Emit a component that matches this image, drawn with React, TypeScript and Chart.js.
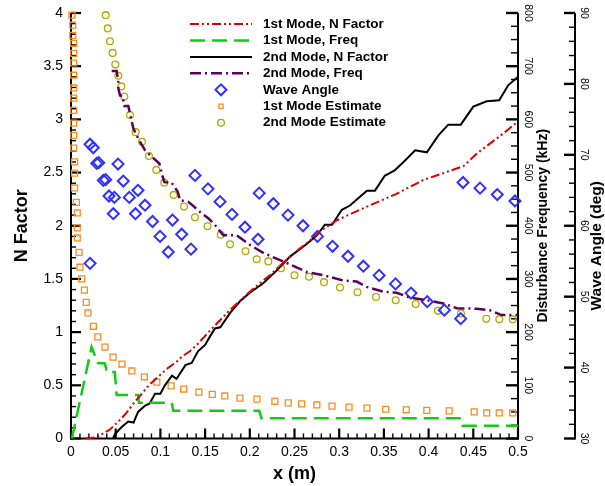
import { useEffect, useRef } from 'react';
import { Chart, registerables } from 'chart.js';
import { drawPoint } from 'chart.js/helpers';

Chart.register(...registerables);

type Pt = [number, number];

// ---- axis ticks ----
const xTicks = [0, 0.05, 0.1, 0.15, 0.2, 0.25, 0.3, 0.35, 0.4, 0.45, 0.5];
const nFactorTicks = [0, 0.5, 1, 1.5, 2, 2.5, 3, 3.5, 4];
const freqTicks = [0, 100, 200, 300, 400, 500, 600, 700, 800];
const angleTicks = [30, 40, 50, 60, 70, 80, 90];

// ---- series: [x (m), value] ----
const mode1NFactor: Pt[] = [
  [0.016, 0], [0.028, 0.01], [0.043, 0.08], [0.053, 0.16], [0.062, 0.24], [0.07, 0.33],
  [0.08, 0.43], [0.087, 0.5], [0.1, 0.6], [0.108, 0.66], [0.118, 0.72], [0.124, 0.77],
  [0.133, 0.82], [0.142, 0.89], [0.155, 1.01], [0.178, 1.21], [0.2, 1.38], [0.223, 1.54],
  [0.245, 1.71], [0.267, 1.86], [0.279, 1.95], [0.297, 2.05], [0.323, 2.15], [0.364, 2.3],
  [0.394, 2.43], [0.439, 2.56], [0.454, 2.68], [0.484, 2.87], [0.5, 2.98],
];

const mode1Freq: Pt[] = [
  [0.001, 0], [0.023, 172], [0.03, 142], [0.038, 141], [0.04, 125], [0.049, 125],
  [0.051, 82], [0.075, 82], [0.076, 67], [0.1126, 67], [0.1144, 52], [0.2106, 52],
  [0.213, 38], [0.436, 38], [0.438, 24], [0.5, 24],
];

const mode2NFactor: Pt[] = [
  [0.047, 0], [0.049, 0.04], [0.057, 0.11], [0.064, 0.16], [0.07, 0.15], [0.075, 0.25],
  [0.083, 0.31], [0.088, 0.33], [0.094, 0.42], [0.1, 0.42], [0.105, 0.5], [0.113, 0.59],
  [0.118, 0.56], [0.128, 0.69], [0.135, 0.71], [0.142, 0.82], [0.15, 0.88], [0.1555, 0.96],
  [0.161, 1.035], [0.167, 1.045], [0.178, 1.18], [0.189, 1.29], [0.2, 1.37], [0.215, 1.46],
  [0.23, 1.58], [0.245, 1.71], [0.256, 1.78], [0.264, 1.83], [0.275, 1.91], [0.284, 2.01],
  [0.292, 2.01], [0.303, 2.15], [0.312, 2.19], [0.331, 2.33], [0.34, 2.33], [0.351, 2.47],
  [0.362, 2.52], [0.372, 2.6], [0.385, 2.71], [0.398, 2.69], [0.411, 2.85], [0.422, 2.95],
  [0.436, 2.95], [0.45, 3.12], [0.465, 3.17], [0.479, 3.18], [0.489, 3.32], [0.5, 3.4],
];

const mode2Freq: Pt[] = [
  [0.0455, 691], [0.0511, 691], [0.0529, 670], [0.053, 658], [0.0548, 645], [0.0576, 644],
  [0.0596, 625], [0.0641, 625], [0.066, 611], [0.0697, 583], [0.0761, 561], [0.0828, 542],
  [0.0903, 530], [0.0988, 517], [0.1015, 498], [0.1044, 482], [0.1126, 481], [0.1194, 464],
  [0.1219, 448], [0.1312, 445], [0.1368, 437], [0.1443, 426], [0.1536, 414], [0.1603, 403],
  [0.1704, 382], [0.1853, 382], [0.2002, 364], [0.2151, 349], [0.2245, 342], [0.2413, 330],
  [0.2636, 313], [0.2822, 307], [0.3046, 297], [0.3196, 295], [0.3308, 285], [0.3493, 276],
  [0.3643, 274], [0.3792, 265], [0.3979, 260], [0.4165, 254], [0.4315, 245], [0.4538, 244],
  [0.4687, 241], [0.4818, 232], [0.5, 232],
];

const waveAngle: Pt[] = [
  [0.0213, 71.5], [0.0213, 54.7], [0.0249, 71.0], [0.0287, 68.8], [0.031, 68.9],
  [0.0361, 66.4], [0.0388, 66.5], [0.0425, 64.2], [0.0485, 64.0], [0.0473, 61.7],
  [0.0526, 68.7], [0.0585, 66.3], [0.0652, 64.0], [0.0721, 61.7], [0.0749, 65.0],
  [0.0828, 62.9], [0.0912, 60.6], [0.0996, 58.5], [0.1088, 56.3], [0.1135, 60.8],
  [0.1238, 58.8], [0.1342, 56.7], [0.1387, 67.1], [0.1532, 65.2], [0.1667, 63.4],
  [0.1801, 61.6], [0.1946, 59.8], [0.2092, 58.1], [0.2105, 64.6], [0.2263, 63.1],
  [0.2427, 61.5], [0.2595, 60.0], [0.2757, 58.5], [0.2925, 57.1], [0.3098, 55.7],
  [0.327, 54.3], [0.3447, 53.0], [0.363, 51.8], [0.3803, 50.5], [0.3985, 49.3],
  [0.4176, 48.1], [0.4359, 46.9], [0.4385, 66.1], [0.4575, 65.3], [0.4768, 64.4],
  [0.4966, 63.5],
];

const mode1Estimate: Pt[] = [
  [0.001, 796], [0.002, 777], [0.002, 758], [0.003, 743], [0.003, 724], [0.003, 706],
  [0.003, 683], [0.003, 659], [0.003, 640], [0.003, 617], [0.003, 593], [0.003, 570],
  [0.003, 546], [0.004, 520], [0.004, 499], [0.004, 471], [0.006, 444], [0.007, 424],
  [0.007, 396], [0.007, 377], [0.009, 350], [0.01, 322], [0.012, 300], [0.015, 279],
  [0.017, 256], [0.019, 236], [0.025, 211], [0.03, 191], [0.038, 172], [0.047, 153],
  [0.057, 140], [0.068, 127], [0.082, 116], [0.096, 106], [0.112, 99], [0.126, 93],
  [0.143, 87], [0.158, 83], [0.172, 80], [0.189, 76], [0.208, 74], [0.228, 70],
  [0.243, 67], [0.258, 65], [0.275, 63], [0.292, 61], [0.311, 59], [0.331, 57],
  [0.352, 55], [0.375, 54], [0.398, 53], [0.423, 52], [0.451, 50], [0.465, 48],
  [0.479, 48], [0.494, 48],
];

const mode2Estimate: Pt[] = [
  [0.0388, 796], [0.0411, 771], [0.0436, 747], [0.0466, 725], [0.0496, 703], [0.0529, 682],
  [0.0563, 662], [0.0596, 643], [0.066, 608], [0.0724, 576], [0.0794, 558], [0.0872, 531],
  [0.0954, 505], [0.1044, 481], [0.1149, 458], [0.1264, 436], [0.1387, 416], [0.1527, 399],
  [0.1675, 383], [0.1779, 365], [0.1952, 352], [0.2077, 337], [0.2207, 333], [0.2349, 320],
  [0.25, 307], [0.2662, 304], [0.283, 294], [0.3009, 284], [0.3205, 275], [0.3412, 266],
  [0.3632, 260], [0.3856, 253], [0.4105, 240], [0.4362, 235], [0.4645, 225], [0.4791, 224],
  [0.4941, 224],
];

const seriesLabels = [
  '1st Mode, N Factor',
  '1st Mode, Freq',
  '2nd Mode, N Factor',
  '2nd Mode, Freq',
  'Wave Angle',
  '1st Mode Estimate',
  '2nd Mode Estimate',
];

const FONT = '"Liberation Sans", Arial, Helvetica, sans-serif';
const HOLLOW = 'rgba(0,0,0,0)';

const toXY = (pts: Pt[]) => pts.map(([x, y]) => ({ x, y }));

const lineSet = (label: string, pts: Pt[], axis: string, color: string, width: number, dash: number[]) => ({
  label,
  data: toXY(pts),
  yAxisID: axis,
  borderColor: color,
  backgroundColor: color,
  borderWidth: width,
  borderDash: dash,
  pointRadius: 0,
  tension: 0,
  fill: false,
  clip: false as const,
});

const markerSet = (label: string, pts: Pt[], axis: string, color: string, style: string, radius: number, width: number) => ({
  label,
  data: toXY(pts),
  yAxisID: axis,
  showLine: false,
  borderColor: color,
  backgroundColor: HOLLOW,
  pointStyle: style,
  pointRadius: radius,
  pointBorderWidth: width,
  pointBorderColor: color,
  pointBackgroundColor: HOLLOW,
  clip: false as const,
});

// Axis spines, inward ticks, rotated right-hand labels and titles
const axesPlugin = {
  id: 'stackedAxes',
  beforeDatasetsDraw(chart: any) {
    const { ctx, chartArea: a, scales } = chart;
    const sx = scales.x;
    const sN = scales.yN;
    const sF = scales.yF;
    const sA = scales.yA;
    const angleX = a.right + 57;
    const midY = (a.top + a.bottom) / 2;

    ctx.save();
    ctx.strokeStyle = '#000';
    ctx.fillStyle = '#000';
    const seg = (x1: number, y1: number, x2: number, y2: number, w: number) => {
      ctx.lineWidth = w;
      ctx.beginPath();
      ctx.moveTo(x1, y1);
      ctx.lineTo(x2, y2);
      ctx.stroke();
    };
    const rot = (text: string, x: number, y: number, ang: number) => {
      ctx.save();
      ctx.translate(x, y);
      ctx.rotate(ang);
      ctx.textAlign = 'center';
      ctx.textBaseline = 'middle';
      ctx.fillText(text, 0, 0);
      ctx.restore();
    };

    seg(a.left, a.top, a.left, a.bottom + 1, 2);
    seg(a.left - 1, a.bottom, a.right + 1, a.bottom, 2);
    seg(a.right, a.top, a.right, a.bottom + 1, 2);
    seg(angleX, a.top, angleX, a.bottom + 1, 2);

    for (let i = 0; i <= 40; i++) {
      const y = sN.getPixelForValue(i / 10);
      const major = i % 5 === 0;
      seg(a.left, y, a.left + (major ? 10 : 5), y, major ? 2.2 : 1.4);
    }
    for (let i = 0; i <= 50; i++) {
      const x = sx.getPixelForValue(i / 100);
      const major = i % 5 === 0;
      seg(x, a.bottom, x, a.bottom - (major ? 10 : 5), major ? 2.2 : 1.4);
    }
    for (let i = 0; i <= 32; i++) {
      const y = sF.getPixelForValue(i * 25);
      const major = i % 4 === 0;
      seg(a.right, y, a.right - (major ? 12 : 7), y, major ? 2.4 : 1.4);
    }
    for (let i = 0; i <= 30; i++) {
      const y = sA.getPixelForValue(30 + i * 2);
      const major = i % 5 === 0;
      seg(angleX, y, angleX - (major ? 11 : 6), y, major ? 2.4 : 1.4);
    }

    ctx.font = `14px ${FONT}`;
    ctx.textAlign = 'right';
    ctx.textBaseline = 'middle';
    nFactorTicks.forEach((v) => ctx.fillText(String(v), a.left - 8, sN.getPixelForValue(v)));
    ctx.textAlign = 'center';
    xTicks.forEach((v) => ctx.fillText(String(v), sx.getPixelForValue(v), a.bottom + 14));

    ctx.font = `10.5px ${FONT}`;
    freqTicks.forEach((v) => rot(String(v), a.right + 10, sF.getPixelForValue(v), Math.PI / 2));
    angleTicks.forEach((v) => rot(String(v), angleX + 9, sA.getPixelForValue(v), Math.PI / 2));

    ctx.font = `bold 18px ${FONT}`;
    rot('N Factor', 22, midY, -Math.PI / 2);
    rot('x (m)', (a.left + a.right) / 2, 474, 0);
    ctx.font = `bold 14px ${FONT}`;
    rot('Disturbance Frequency (kHz)', a.right + 25, midY, -Math.PI / 2);
    ctx.font = `bold 15.5px ${FONT}`;
    rot('Wave Angle (deg)', angleX + 22, midY + 20, -Math.PI / 2);
    ctx.restore();
  },
};

// Stacked legend block in the upper middle of the plot
const legendPlugin = {
  id: 'stackedLegend',
  afterDraw(chart: any) {
    const { ctx } = chart;
    ctx.save();
    chart.data.datasets.forEach((ds: any, i: number) => {
      const y = 24 + i * 16.45;
      if (ds.showLine === false) {
        ctx.strokeStyle = ds.pointBorderColor;
        ctx.fillStyle = HOLLOW;
        ctx.lineWidth = ds.pointBorderWidth;
        ctx.setLineDash([]);
        drawPoint(ctx, {
          pointStyle: ds.pointStyle,
          radius: ds.pointStyle === 'rect' ? 3 : ds.pointRadius,
          borderWidth: ds.pointBorderWidth,
          rotation: 0,
        } as any, 221, y);
      } else {
        ctx.strokeStyle = ds.borderColor;
        ctx.lineWidth = ds.borderWidth;
        ctx.setLineDash(ds.borderDash || []);
        ctx.beginPath();
        ctx.moveTo(190, y);
        ctx.lineTo(252, y);
        ctx.stroke();
      }
      ctx.setLineDash([]);
      ctx.fillStyle = '#000';
      ctx.font = `bold 13.5px ${FONT}`;
      ctx.textAlign = 'left';
      ctx.textBaseline = 'middle';
      ctx.fillText(seriesLabels[i], 263, y);
    });
    ctx.restore();
  },
};

export default function App() {
  const canvasRef = useRef<HTMLCanvasElement | null>(null);

  useEffect(() => {
    if (!canvasRef.current) return;
    const chart = new Chart(canvasRef.current, {
      type: 'line',
      data: {
        datasets: [
          lineSet(seriesLabels[0], mode1NFactor, 'yN', '#d90000', 2, [9, 3, 2, 3, 2, 3]),
          lineSet(seriesLabels[1], mode1Freq, 'yF', '#12cc12', 2.5, [15, 7]),
          lineSet(seriesLabels[2], mode2NFactor, 'yN', '#000000', 2, []),
          lineSet(seriesLabels[3], mode2Freq, 'yF', '#5c005c', 2.5, [11, 4, 2, 4]),
          markerSet(seriesLabels[4], waveAngle, 'yA', '#3030ff', 'rectRot', 5.5, 2),
          markerSet(seriesLabels[5], mode1Estimate, 'yF', '#ff8a1e', 'rect', 4.2, 1.3),
          markerSet(seriesLabels[6], mode2Estimate, 'yF', '#b3a800', 'circle', 3.4, 1.3),
        ] as any,
      },
      options: {
        animation: false,
        responsive: false,
        devicePixelRatio: 1,
        events: [],
        layout: { padding: { left: 71, right: 87, top: 13, bottom: 47.5 } },
        plugins: { legend: { display: false }, tooltip: { enabled: false } },
        scales: {
          x: { type: 'linear', min: 0, max: 0.5, display: false },
          yN: { type: 'linear', position: 'left', min: 0, max: 4, display: false },
          yF: { type: 'linear', position: 'right', min: 0, max: 800, display: false },
          yA: { type: 'linear', position: 'right', min: 30, max: 90, display: false },
        },
      } as any,
      plugins: [axesPlugin, legendPlugin],
    });
    return () => chart.destroy();
  }, []);

  return (
    <div style={{ position: 'fixed', left: 0, top: 0, width: 605, height: 486, background: '#fff' }}>
      <canvas ref={canvasRef} width={605} height={486} style={{ display: 'block' }} />
    </div>
  );
}
